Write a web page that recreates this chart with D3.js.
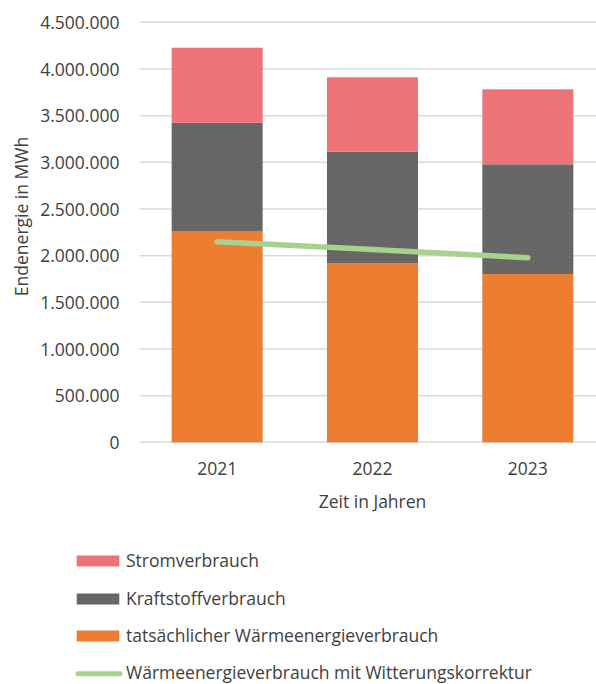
<!DOCTYPE html>
<html><head><meta charset="utf-8">
<script src="https://cdn.jsdelivr.net/npm/d3@7"></script>
<style>body{margin:0;background:#fff}svg{display:block}text{font-family:"Open Sans",sans-serif;fill:#404040}</style>
</head><body><svg id="c" width="596" height="684"></svg>
<script>
const years = ["2021","2022","2023"];
const waerme = [2264000, 1918000, 1803000];
const kraftstoff = [1160000, 1196000, 1176000];
const strom = [804000, 797000, 803000];
const waermeKorr = [2149000, 2065000, 1978000];
const yTicks = [0,500000,1000000,1500000,2000000,2500000,3000000,3500000,4000000,4500000];
const seriesNames = ["Stromverbrauch","Kraftstoffverbrauch","tatsächlicher Wärmeenergieverbrauch","Wärmeenergieverbrauch mit Witterungskorrektur"];

const svg = d3.select("#c");
const FS = 17.5;
const pLeft = 139.5, pRight = 596, pTop = 22.3, pBottom = 442.3;
const y = d3.scaleLinear().domain([0,4500000]).range([pBottom, pTop]);
const x = d3.scaleBand().domain(years).range([pLeft, 605.5]).paddingInner(0.414).paddingOuter(0.207);
const fmt = v => d3.format(",")(v).replace(/,/g,".");

const defs = svg.append("defs");
const pat = defs.append("pattern").attr("id","dots").attr("width",4).attr("height",4).attr("patternUnits","userSpaceOnUse");
pat.append("rect").attr("width",4).attr("height",4).attr("fill","#666666");
pat.append("rect").attr("x",1).attr("y",1).attr("width",1).attr("height",1).attr("fill","#727272");
pat.append("rect").attr("x",3).attr("y",3).attr("width",1).attr("height",1).attr("fill","#5e5e5e");

// gridlines
svg.append("g").selectAll("line").data(yTicks).join("line")
  .attr("x1",pLeft).attr("x2",pRight).attr("y1",d=>y(d)).attr("y2",d=>y(d))
  .attr("stroke","#d9d9d9").attr("stroke-width",1.5);

// y axis labels
const yAxis = d3.axisLeft(y).tickValues(yTicks).tickFormat(fmt).tickSize(0).tickPadding(20);
const ga = svg.append("g").attr("transform",`translate(${pLeft},0)`).call(yAxis);
ga.select(".domain").remove();
ga.selectAll("text").attr("font-size",FS).attr("font-family","Open Sans").attr("fill","#404040").attr("dy","0.36em");

// stacks
const rows = years.map((yr,i)=>({year:yr, w:waerme[i], k:kraftstoff[i], s:strom[i]}));
const stack = d3.stack().keys(["w","k","s"])(rows);
const colors = {w:"#ed7d31", k:"url(#dots)", s:"#ee7377"};
svg.append("g").selectAll("g").data(stack).join("g")
  .attr("fill",d=>colors[d.key])
  .selectAll("rect").data(d=>d).join("rect")
  .attr("x",d=>x(d.data.year)).attr("width",x.bandwidth())
  .attr("y",d=>y(d[1])).attr("height",d=>y(d[0])-y(d[1]));

// line
svg.append("path").datum(years.map((yr,i)=>[x(yr)+x.bandwidth()/2, y(waermeKorr[i])]))
  .attr("d",d3.line()).attr("fill","none").attr("stroke","#a9d18e")
  .attr("stroke-width",5.5).attr("stroke-linecap","round");

// x labels
svg.append("g").selectAll("text").data(years).join("text")
  .attr("x",d=>x(d)+x.bandwidth()/2).attr("y",475).attr("text-anchor","middle")
  .attr("font-size",FS).text(d=>d);
svg.append("text").attr("x",x(years[1])+x.bandwidth()/2).attr("y",508).attr("text-anchor","middle").attr("font-size",FS).text("Zeit in Jahren");
svg.append("text").attr("transform",`translate(28,216.5) rotate(-90)`).attr("text-anchor","middle").attr("font-size",FS).text("Endenergie in MWh");

// legend
const legY = [561, 599, 636, 673.8];
const leg = svg.append("g");
seriesNames.forEach((n,i)=>{
  if(i<3){
    leg.append("rect").attr("x",76.7).attr("y",legY[i]-5.5).attr("width",42.6).attr("height",11)
      .attr("fill",[colors.s,colors.k,colors.w][i]);
  } else {
    leg.append("line").attr("x1",78).attr("x2",120).attr("y1",legY[i]).attr("y2",legY[i])
      .attr("stroke","#a9d18e").attr("stroke-width",5).attr("stroke-linecap","round");
  }
  leg.append("text").attr("x",126).attr("y",legY[i]).attr("dy",i<3?"0.36em":"0.3em").attr("font-size",FS).text(n);
});
</script></body></html>
